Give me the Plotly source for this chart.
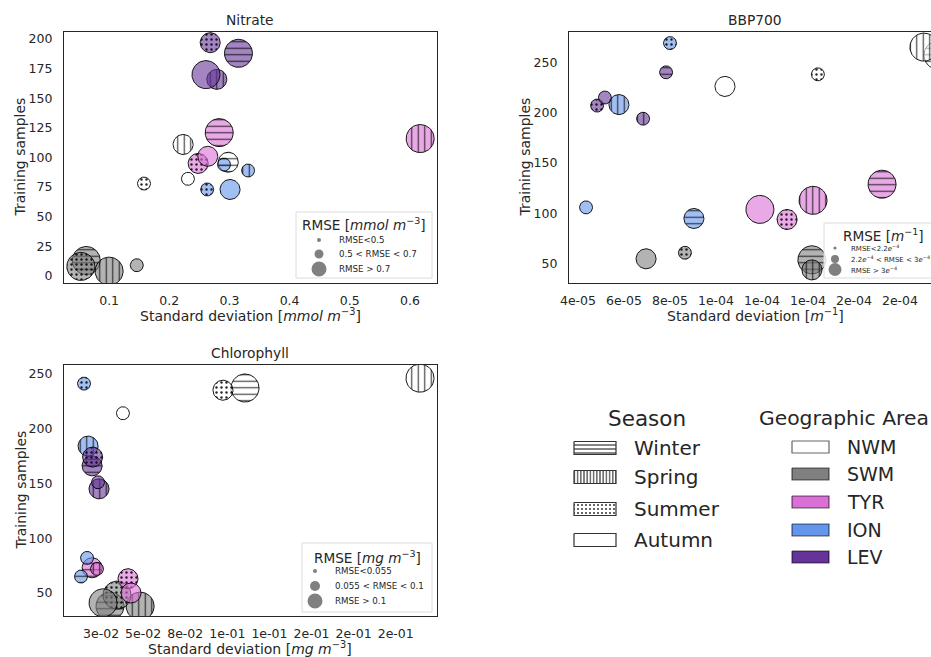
import numpy as np
import plotly.graph_objects as go

W, H = 931, 657
FONT = "DejaVu Sans"
TXT = "#262626"

AREAS = ["NWM", "SWM", "TYR", "ION", "LEV"]
SEASONS = ["Winter", "Spring", "Summer", "Autumn"]
AREA_COLORS = ["#ffffff", "#808080", "#da70d6", "#6495ed", "#663399"]
SEASON_HATCH = ["-", "|", ".", ""]

# every panel: 20 points ordered NWM(Winter,Spring,Summer,Autumn), SWM(...), TYR, ION, LEV
point_area = [a for a in AREAS for s in SEASONS]
point_season = [s for a in AREAS for s in SEASONS]

nitrate_std = [0.298, 0.223, 0.158, 0.231,
               0.062, 0.100, 0.053, 0.146,
               0.283, 0.617, 0.248, 0.264,
               0.291, 0.331, 0.263, 0.301,
               0.315, 0.279, 0.268, 0.261]
nitrate_samples = [96, 111, 78, 82,
                   13, 4, 8, 9,
                   121, 116, 95, 101,
                   94, 89, 73, 73,
                   188, 166, 197, 170]
nitrate_rmse = ["M", "M", "S", "S",
                "L", "L", "L", "S",
                "L", "L", "M", "M",
                "S", "S", "S", "M",
                "L", "M", "M", "L"]

bbp_std = [1.965e-4, 1.904e-4, 1.443e-4, 1.039e-4,
           1.417e-4, 1.417e-4, 8.65e-5, 6.96e-5,
           1.722e-4, 1.422e-4, 1.309e-4, 1.191e-4,
           9.04e-5, 5.78e-5, 8.0e-5, 4.35e-5,
           7.83e-5, 6.83e-5, 4.83e-5, 5.17e-5]
bbp_samples = [257, 265, 238, 226,
               54, 44, 61, 55,
               129, 113, 94, 104,
               95, 208, 269, 106,
               240, 194, 207, 215]
bbp_rmse = ["L", "L", "S", "M",
            "L", "M", "S", "M",
            "L", "L", "M", "L",
            "M", "M", "S", "S",
            "S", "S", "S", "S"]

chl_std = [0.1105, 0.2144, 0.0974, 0.038,
           0.0303, 0.0482, 0.0345, 0.0262,
           0.0197, 0.0226, 0.041, 0.0428,
           0.0131, 0.0173, 0.0149, 0.0167,
           0.0197, 0.0238, 0.020, 0.0232]
chl_samples = [237, 246, 235, 214,
               38, 38, 48, 41,
               73, 72, 63, 50,
               65, 184, 241, 82,
               166, 145, 174, 151]
chl_rmse = ["L", "L", "M", "S",
            "L", "L", "L", "L",
            "M", "S", "M", "M",
            "S", "M", "S", "S",
            "M", "M", "M", "S"]

nitrate_xticks = [0.1, 0.2, 0.3, 0.4, 0.5, 0.6]
nitrate_xtext = ["0.1", "0.2", "0.3", "0.4", "0.5", "0.6"]
nitrate_yticks = [0, 25, 50, 75, 100, 125, 150, 175, 200]
bbp_xticks = [4e-5, 6e-5, 8e-5, 1e-4, 1.2e-4, 1.4e-4, 1.6e-4, 1.8e-4]
bbp_xtext = ["4e-05", "6e-05", "8e-05", "1e-04", "1e-04", "1e-04", "2e-04", "2e-04"]
bbp_yticks = [50, 100, 150, 200, 250]
chl_xticks = [0.025, 0.05, 0.075, 0.1, 0.125, 0.15, 0.175, 0.2]
chl_xtext = ["3e-02", "5e-02", "8e-02", "1e-01", "1e-01", "2e-01", "2e-01", "2e-01"]
chl_yticks = [50, 100, 150, 200, 250]

SIZE_PX = {"S": 6.5, "M": 10, "L": 14}


def hex_rgba(h, a):
    h = h.lstrip("#")
    r, g, b = int(h[0:2], 16), int(h[2:4], 16), int(h[4:6], 16)
    return f"rgba({r},{g},{b},{a})"


panels = [
    dict(title="Nitrate", ax="", px=(64, 437), py=(32, 283), xr=(0.025, 0.645), yr=(-6, 206),
         xs=nitrate_std, ys=nitrate_samples, cls=nitrate_rmse,
         xt=nitrate_xticks, xtt=nitrate_xtext, yt=nitrate_yticks, cx=250,
         xlabel="Standard deviation [<i>mmol m</i><sup>−3</sup>]", mirror_y=True),
    dict(title="BBP700", ax="2", px=(569, 931), py=(32, 283), xr=(3.609e-5, 1.9348e-4), yr=(31, 280),
         xs=bbp_std, ys=bbp_samples, cls=bbp_rmse,
         xt=bbp_xticks, xtt=bbp_xtext, yt=bbp_yticks, cx=755,
         xlabel="Standard deviation [<i>m</i><sup>−1</sup>]", mirror_y=False),
    dict(title="Chlorophyll", ax="3", px=(64, 437), py=(365, 616), xr=(0.003, 0.2245), yr=(29, 258),
         xs=chl_std, ys=chl_samples, cls=chl_rmse,
         xt=chl_xticks, xtt=chl_xtext, yt=chl_yticks, cx=250,
         xlabel="Standard deviation [<i>mg m</i><sup>−3</sup>]", mirror_y=True),
]

fig = go.Figure()
layout = dict(width=W, height=H, margin=dict(l=0, r=0, t=0, b=0, pad=0, autoexpand=False),
              paper_bgcolor="white", plot_bgcolor="white", showlegend=False,
              font=dict(family=FONT, color=TXT), template="none")
annotations = []
shapes = []


def pxx(x):
    return x / W


def pxy(y):
    return 1 - y / H


t = np.linspace(0, 2 * np.pi, 61)
for p in panels:
    ax = p["ax"]
    ppx = (p["px"][1] - p["px"][0]) / (p["xr"][1] - p["xr"][0])
    ppy = (p["py"][1] - p["py"][0]) / (p["yr"][1] - p["yr"][0])
    for i in range(len(p["xs"])):
        ai = AREAS.index(point_area[i])
        si = SEASONS.index(point_season[i])
        r = SIZE_PX[p["cls"][i]]
        cx, cy = p["xs"][i], p["ys"][i]
        xs = cx + r * np.cos(t) / ppx
        ys = cy + r * np.sin(t) / ppy
        fill = hex_rgba(AREA_COLORS[ai], 0.6)
        kw = dict(x=xs, y=ys, mode="lines", fill="toself", fillcolor=fill,
                  line=dict(color="rgba(0,0,0,0.9)", width=1),
                  xaxis="x" + ax, yaxis="y" + ax, hoverinfo="skip", showlegend=False)
        hatch = SEASON_HATCH[si]
        if hatch == "-" or hatch == "|":
            kw["fillpattern"] = dict(shape=hatch, bgcolor=fill, fgcolor="rgba(0,0,0,0.7)",
                                     size=6.5, solidity=0.19)
        elif hatch == ".":
            kw["fillpattern"] = dict(shape=".", bgcolor=fill, fgcolor="rgba(0,0,0,0.85)",
                                     size=5, solidity=0.18)
        fig.add_trace(go.Scatter(**kw))

    xd = [pxx(p["px"][0]), pxx(p["px"][1])]
    yd = [pxy(p["py"][1]), pxy(p["py"][0])]
    layout["xaxis" + ax] = dict(domain=xd, range=list(p["xr"]), anchor="y" + ax, automargin=False,
                                tickvals=p["xt"], ticktext=p["xtt"], showgrid=False, zeroline=False,
                                showline=True, mirror=True, linecolor=TXT, linewidth=1.25,
                                ticks="", ticklabelstandoff=6,
                                tickfont=dict(size=12.5, color=TXT, family=FONT))
    layout["yaxis" + ax] = dict(domain=yd, range=list(p["yr"]), anchor="x" + ax, automargin=False,
                                tickvals=p["yt"], ticktext=[str(v) for v in p["yt"]],
                                showgrid=False, zeroline=False,
                                showline=True, mirror=p["mirror_y"], linecolor=TXT, linewidth=1.25,
                                ticks="", ticklabelstandoff=8,
                                tickfont=dict(size=12.5, color=TXT, family=FONT))
    annotations.append(dict(text=p["title"], x=pxx(p["cx"]), y=pxy(p["py"][0] - 12), xref="paper", yref="paper",
                            showarrow=False, font=dict(size=13.8, color=TXT, family=FONT),
                            xanchor="center", yanchor="middle"))
    annotations.append(dict(text=p["xlabel"], x=pxx(p["cx"]), y=pxy(p["py"][1] + 32), xref="paper", yref="paper",
                            showarrow=False, font=dict(size=14, color=TXT, family=FONT),
                            xanchor="center", yanchor="middle"))
    annotations.append(dict(text="Training samples", x=pxx(p["px"][0] - 44),
                            y=pxy((p["py"][0] + p["py"][1]) / 2), xref="paper", yref="paper",
                            showarrow=False, textangle=-90, font=dict(size=14, color=TXT, family=FONT),
                            xanchor="center", yanchor="middle"))

# RMSE size legends inside panels
rmse_legends = [
    dict(box=(296, 212, 432, 278), title="RMSE [<i>mmol m</i><sup>−3</sup>]", tx=364, ty=224,
         mx=319, tx0=337, rows=[240, 254, 269], radii=[2, 4.5, 7.5], fs=8.7,
         labels=["RMSE<0.5", "0.5 < RMSE < 0.7", "RMSE > 0.7"]),
    dict(box=(824, 223, 945, 278), title="RMSE [<i>m</i><sup>−1</sup>]", tx=883, ty=235,
         mx=835, tx0=849, rows=[248, 259, 269.5], radii=[1.6, 4, 6.5], fs=7,
         labels=["RMSE<2.2<i>e</i><sup>−4</sup>", "2.2<i>e</i><sup>−4</sup> < RMSE < 3<i>e</i><sup>−4</sup>",
                 "RMSE > 3<i>e</i><sup>−4</sup>"]),
    dict(box=(302, 543, 432, 612), title="RMSE [<i>mg m</i><sup>−3</sup>]", tx=367, ty=557,
         mx=315, tx0=333, rows=[571, 586, 601], radii=[2, 5, 7.5], fs=8.7,
         labels=["RMSE<0.055", "0.055 < RMSE < 0.1", "RMSE > 0.1"]),
]
for lg in rmse_legends:
    x0, y0, x1, y1 = lg["box"]
    shapes.append(dict(type="rect", xref="paper", yref="paper", x0=pxx(x0), x1=pxx(x1),
                       y0=pxy(y1), y1=pxy(y0), fillcolor="rgba(255,255,255,0.85)",
                       line=dict(color="#dcdcdc", width=1), layer="above"))
    annotations.append(dict(text=lg["title"], x=pxx(lg["tx"]), y=pxy(lg["ty"]), xref="paper", yref="paper",
                            showarrow=False, font=dict(size=13.6, color=TXT, family=FONT),
                            xanchor="center", yanchor="middle"))
    for ry, rr, lab in zip(lg["rows"], lg["radii"], lg["labels"]):
        shapes.append(dict(type="circle", xref="paper", yref="paper",
                           x0=pxx(lg["mx"] - rr), x1=pxx(lg["mx"] + rr),
                           y0=pxy(ry + rr), y1=pxy(ry - rr), fillcolor="#808080",
                           line=dict(width=0), layer="above"))
        annotations.append(dict(text=lab, x=pxx(lg["tx0"]), y=pxy(ry), xref="paper", yref="paper",
                                showarrow=False, font=dict(size=lg["fs"], color=TXT, family=FONT),
                                xanchor="left", yanchor="middle"))

# Season / Geographic Area legend (own invisible axis with pixel-like range)
LX0, LX1, LY0, LY1 = 560, 931, 395, 585
layout["xaxis4"] = dict(domain=[pxx(LX0), 1], range=[LX0, LX1], visible=False, anchor="y4",
                        fixedrange=True, automargin=False)
layout["yaxis4"] = dict(domain=[pxy(LY1), pxy(LY0)], range=[LY1, LY0], visible=False, anchor="x4",
                        fixedrange=True, automargin=False)


def swatch(x0, x1, yc, h, fill, edge, pattern=None):
    xs = [x0, x1, x1, x0, x0]
    ys = [yc - h / 2, yc - h / 2, yc + h / 2, yc + h / 2, yc - h / 2]
    kw = dict(x=xs, y=ys, mode="lines", fill="toself", fillcolor=fill,
              line=dict(color=edge, width=1.2), xaxis="x4", yaxis="y4",
              hoverinfo="skip", showlegend=False)
    if pattern:
        kw["fillpattern"] = pattern
    fig.add_trace(go.Scatter(**kw))


annotations.append(dict(text="Season", x=pxx(647), y=pxy(418), xref="paper", yref="paper", showarrow=False,
                        font=dict(size=21.5, color=TXT, family=FONT), xanchor="center", yanchor="middle"))
season_rows = [448, 477, 509, 540]
season_patterns = [dict(shape="-", bgcolor="white", fgcolor="#333", size=4, solidity=0.3),
                   dict(shape="|", bgcolor="white", fgcolor="#333", size=3.2, solidity=0.35),
                   dict(shape=".", bgcolor="white", fgcolor="#333", size=4, solidity=0.2),
                   None]
for s, ry, pat in zip(SEASONS, season_rows, season_patterns):
    swatch(574, 616, ry, 13, "white", "#333", pat)
    annotations.append(dict(text=s, x=pxx(632), y=pxy(ry), xref="paper", yref="paper", showarrow=False,
                            font=dict(size=20, color=TXT, family=FONT), xanchor="left", yanchor="middle"))

annotations.append(dict(text="Geographic Area", x=pxx(757), y=pxy(418), xref="paper", yref="paper",
                        showarrow=False, font=dict(size=20.3, color=TXT, family=FONT),
                        xanchor="left", yanchor="middle"))
area_rows = [447, 474, 502, 530, 557]
for a, col, ry in zip(AREAS, AREA_COLORS, area_rows):
    swatch(792, 829, ry, 12, col, "rgba(0,0,0,0.6)")
    annotations.append(dict(text=a, x=pxx(845), y=pxy(ry), xref="paper", yref="paper", showarrow=False,
                            font=dict(size=19, color=TXT, family=FONT), xanchor="left", yanchor="middle"))

layout["annotations"] = annotations
layout["shapes"] = shapes
fig.update_layout(**layout)
fig.write_html("out.html")
